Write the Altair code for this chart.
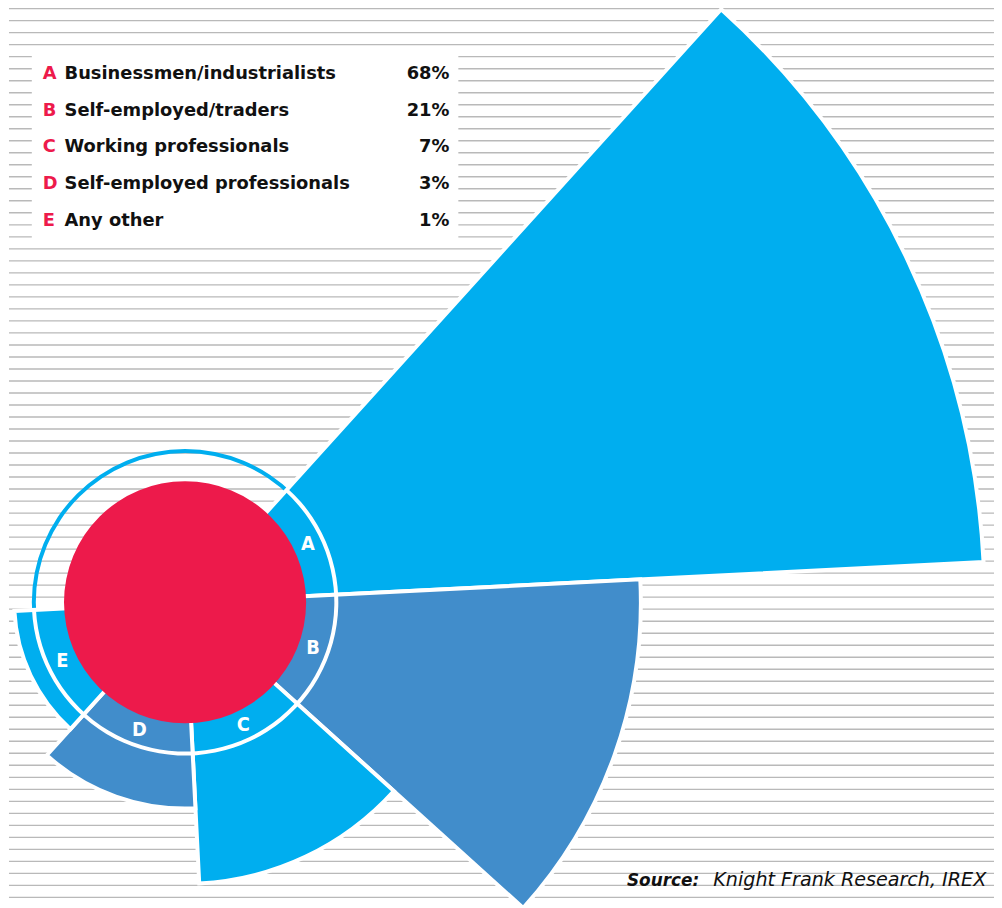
import math
import altair as alt
import pandas as pd

# ---- data ----
categories = ["A", "B", "C", "D", "E"]
labels = [
    "Businessmen/industrialists",
    "Self-employed/traders",
    "Working professionals",
    "Self-employed professionals",
    "Any other",
]
shares = [68, 21, 7, 3, 1]
pct_labels = ["68%", "21%", "7%", "3%", "1%"]
source_bold = "Source:"
source_rest = "Knight Frank Research, IREX"

# ---- layout / style ----
W, H = 994, 898
CX, CY = 178.5, 595.5
START = 0.735
TWO_PI = 2 * math.pi
SLOT = TWO_PI / 8
LB = "#00AEEF"
DB = "#418DCB"
RED = "#ED1A4B"
GRID = "#b9b9b9"
FONT = "DejaVu Sans"

df = pd.DataFrame({
    "cat": categories,
    "label": labels,
    "share": shares,
    "pct": pct_labels,
    "order": list(range(len(categories))),
})
one = pd.DataFrame({"a": [0]})
rows = pd.DataFrame({"row": list(range(75))})

theta_scale = alt.Scale(domain=[0, 8], range=[START, START + TWO_PI], nice=False, zero=False)

# background horizontal rules
rules = alt.Chart(rows).mark_rule(color=GRID, strokeWidth=1.4).encode(
    y=alt.Y("row:Q", scale=alt.Scale(domain=[0, 74], range=[-3, 893], nice=False, zero=False), axis=None),
    x=alt.value(1),
    x2=alt.value(994),
)

# white legend panel
panel = alt.Chart(one).mark_rect(color="white").encode(
    x=alt.value(24), x2=alt.value(454), y=alt.value(38), y2=alt.value(233)
)

# blue ring (full circle)
blue_ring = alt.Chart(one).mark_arc(
    radius=154.5, radius2=150.5, theta=0, theta2=TWO_PI, color=LB
).encode(x=alt.value(CX), y=alt.value(CY))

sectors = alt.Chart(df).transform_calculate(
    r_area="max(datum.share, 1.55) + 1.632",
    slot_end="datum.order + 1",
).mark_arc(stroke="white", strokeWidth=4).encode(
    x=alt.value(CX),
    y=alt.value(CY),
    theta=alt.Theta("order:Q", scale=theta_scale, stack=False),
    theta2=alt.Theta2("slot_end:Q"),
    radius=alt.Radius("r_area:Q",
                      scale=alt.Scale(type="sqrt", zero=True, nice=False,
                                      domain=[0, 69.632], range=[0, 806])),
    color=alt.Color("cat:N", scale=alt.Scale(domain=categories, range=[LB, DB, LB, DB, LB]), legend=None),
)

white_ring = alt.Chart(one).mark_arc(
    radius=154.5, radius2=150.5, theta=START, theta2=START + 5 * SLOT, color="white"
).encode(x=alt.value(CX), y=alt.value(CY))

core = alt.Chart(one).mark_arc(
    radius=122, theta=0, theta2=TWO_PI, color=RED
).encode(x=alt.value(CX), y=alt.value(CY))

ring_letters = alt.Chart(df).transform_calculate(
    slot_mid="datum.order + 0.5"
).mark_text(
    radius=137, color="white", font="DejaVu Sans Condensed", fontWeight="bold",
    fontSize=20, align="center", baseline="middle"
).encode(
    x=alt.value(CX), y=alt.value(CY),
    theta=alt.Theta("slot_mid:Q", scale=theta_scale, stack=False),
    text="cat:N",
)

# legend rows
ly = alt.Y("order:Q", scale=alt.Scale(domain=[0, 4], range=[68, 216], nice=False, zero=False), axis=None)
leg_letter = alt.Chart(df).mark_text(
    font=FONT, fontWeight="bold", fontSize=18, color=RED, align="left", baseline="alphabetic"
).encode(x=alt.value(35), y=ly, text="cat:N")
leg_label = alt.Chart(df).mark_text(
    font=FONT, fontWeight="bold", fontSize=18, color="#111111", align="left", baseline="alphabetic"
).encode(x=alt.value(57), y=ly, text="label:N")
leg_pct = alt.Chart(df).mark_text(
    font=FONT, fontWeight="bold", fontSize=18, color="#111111", align="right", baseline="alphabetic"
).encode(x=alt.value(445), y=ly, text="pct:N")

src1 = alt.Chart(one).mark_text(
    text=source_bold, font=FONT, fontStyle="italic", fontWeight="bold", fontSize=17,
    color="#111111", align="left", baseline="alphabetic"
).encode(x=alt.value(624), y=alt.value(881))
src2 = alt.Chart(one).mark_text(
    text=source_rest, font=FONT, fontStyle="italic", fontSize=19.3,
    color="#111111", align="left", baseline="alphabetic"
).encode(x=alt.value(711), y=alt.value(881))

chart = alt.layer(
    rules, panel, blue_ring, sectors, white_ring, core, ring_letters,
    leg_letter, leg_label, leg_pct, src1, src2
).resolve_scale(y="independent").properties(
    width=W, height=H, padding=0, autosize=alt.AutoSizeParams(type="none"), background="white"
).configure_view(stroke=None)

chart.save("out.html", embed_options={"renderer": "svg", "actions": False})
